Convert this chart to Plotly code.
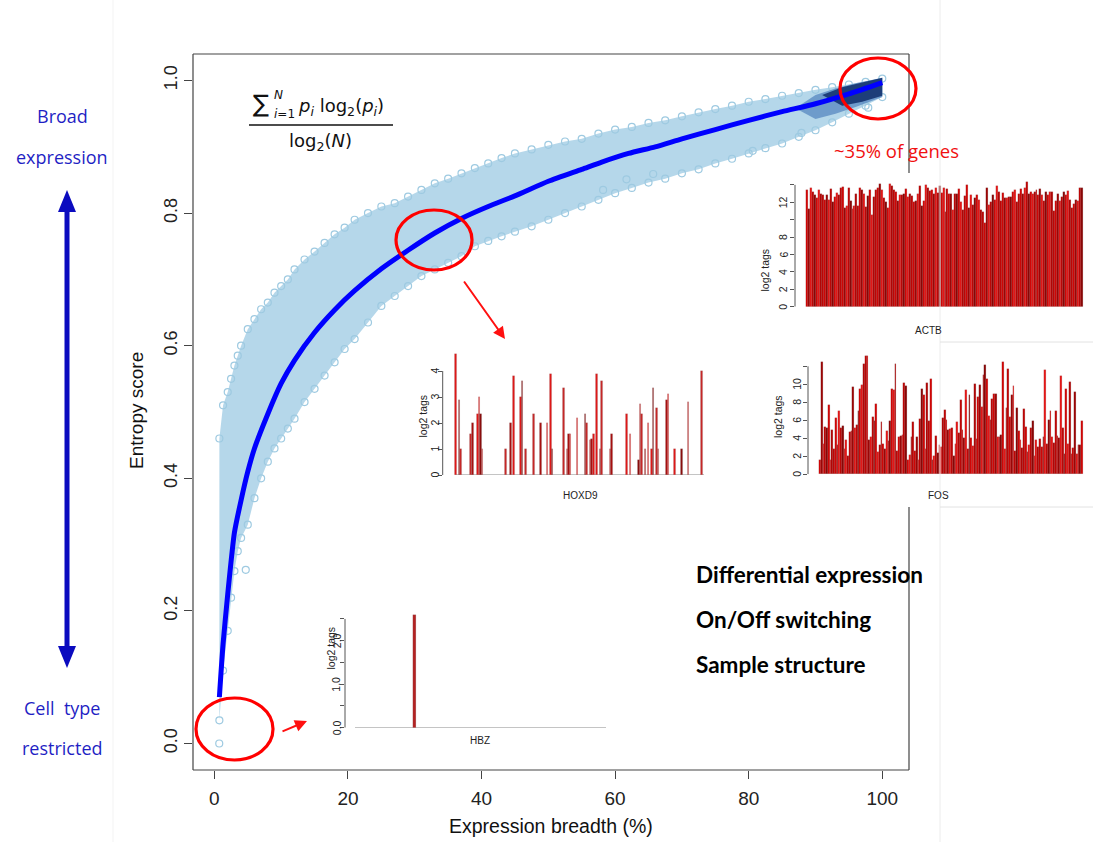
import plotly.graph_objects as go

W, H = 1093, 842

# ---------------- data ----------------
# mean entropy curve (blue line)
line_breadth = [0.75, 1.3, 2, 3, 4, 5, 6, 8, 10, 12, 15, 18, 21, 25, 29, 33, 37, 41, 45,
                50, 55, 58, 62, 66, 70, 75, 80, 85, 90, 95, 100]
entropy_mean = [0.07, 0.15, 0.225, 0.318, 0.367, 0.41, 0.445, 0.497, 0.543, 0.578, 0.62,
                0.654, 0.683, 0.716, 0.744, 0.77, 0.792, 0.81, 0.826, 0.848, 0.866,
                0.877, 0.89, 0.90, 0.912, 0.926, 0.94, 0.953, 0.965, 0.98, 0.997]
# envelope of the gene cloud
cloud_breadth = [0.75, 1.3, 2, 2.5, 3, 3.5, 4, 5, 6, 7, 8, 9, 10, 11, 12, 13.5, 15, 16.5,
                 18, 19.5, 21, 23, 25, 27, 29, 31, 33, 35, 37, 39, 41, 43, 45, 47.5, 50,
                 52.5, 55, 57.5, 60, 62.5, 65, 67.5, 70, 72.5, 75, 77.5, 80, 82.5, 85,
                 87.5, 90, 92.5, 95, 97.5, 100]
cloud_hi = [0.46, 0.51, 0.53, 0.55, 0.57, 0.585, 0.60, 0.625, 0.64, 0.655, 0.665, 0.68,
            0.69, 0.70, 0.715, 0.73, 0.742, 0.755, 0.768, 0.778, 0.79, 0.80, 0.81, 0.815,
            0.825, 0.835, 0.845, 0.852, 0.86, 0.868, 0.875, 0.883, 0.89, 0.896, 0.903,
            0.908, 0.912, 0.92, 0.926, 0.93, 0.936, 0.94, 0.946, 0.952, 0.957, 0.962,
            0.968, 0.972, 0.977, 0.981, 0.986, 0.99, 0.994, 0.998, 1.003]
cloud_lo = [0.035, 0.11, 0.17, 0.22, 0.26, 0.29, 0.31, 0.33, 0.37, 0.40, 0.425, 0.445,
            0.46, 0.475, 0.49, 0.515, 0.535, 0.555, 0.575, 0.595, 0.61, 0.635, 0.66,
            0.675, 0.69, 0.705, 0.715, 0.725, 0.735, 0.75, 0.758, 0.765, 0.772, 0.78,
            0.79, 0.80, 0.81, 0.82, 0.83, 0.838, 0.846, 0.852, 0.86, 0.866, 0.875,
            0.882, 0.89, 0.898, 0.905, 0.915, 0.925, 0.937, 0.95, 0.962, 0.975]
# dense (darker) cluster of broadly expressed genes
dense_breadth = [87, 90, 93, 96, 100]
dense_hi = [0.958, 0.978, 0.988, 0.996, 1.004]
dense_lo = [0.958, 0.942, 0.95, 0.96, 0.975]
navy_breadth = [91, 94, 97, 100]
navy_hi = [0.978, 0.99, 0.997, 1.004]
navy_lo = [0.978, 0.962, 0.968, 0.977]
# isolated genes
outlier_breadth = [0.73, 4.7, 58.2, 61.7, 65.7, 80.6, 87.9, 97.9]
outlier_entropy = [0.0, 0.262, 0.835, 0.851, 0.859, 0.894, 0.921, 0.959]

# example genes: log2 tags per sample
actb = [13.4, 11.2, 13.7, 13.2, 12.8, 12.5, 13.4, 12.9, 12.8, 12.3,
        12.8, 12.3, 13.5, 12.0, 12.6, 13.1, 12.8, 13.6, 13.8, 11.4,
        11.6, 13.7, 12.1, 11.2, 11.6, 12.9, 11.6, 13.7, 13.4, 12.9,
        11.5, 12.7, 13.4, 10.5, 12.6, 13.4, 13.6, 14.1, 13.4, 12.5,
        12.0, 11.3, 14.1, 13.9, 13.4, 13.2, 12.1, 12.8, 12.8, 12.9,
        13.5, 12.6, 13.0, 12.7, 12.0, 12.2, 12.9, 13.9, 11.6, 12.1,
        14.0, 13.6, 13.3, 13.4, 13.0, 13.7, 13.1, 13.9, 13.1, 13.7,
        10.9, 13.5, 13.0, 12.9, 11.1, 13.0, 12.9, 13.5, 12.0, 11.1,
        12.7, 14.0, 11.4, 12.8, 11.7, 12.5, 12.8, 12.3, 11.1, 10.9,
        9.6, 13.7, 11.7, 12.0, 12.8, 12.3, 13.9, 13.2, 12.2, 13.1,
        12.5, 12.5, 12.6, 12.6, 13.2, 13.4, 12.0, 12.9, 13.5, 12.9,
        13.6, 14.3, 13.0, 13.2, 12.9, 13.2, 13.4, 12.8, 13.5, 12.8,
        12.1, 13.2, 12.8, 13.2, 13.2, 11.0, 12.2, 12.9, 12.1, 12.6,
        13.2, 12.8, 13.3, 12.3, 11.3, 11.8, 12.3, 12.2, 13.6, 13.7]
fos = [1.6, 12.5, 3.4, 5.3, 5.2, 7.7, 1.6, 4.9, 2.8, 6.3,
       3.3, 7.0, 5.2, 5.4, 2.8, 3.8, 2.0, 4.7, 4.8, 9.7,
       5.2, 5.5, 7.0, 9.5, 9.9, 12.3, 13.2, 13.1, 3.8, 4.2,
       6.4, 5.9, 7.8, 2.5, 3.3, 5.8, 3.4, 2.8, 4.8, 3.7,
       5.9, 9.5, 9.4, 12.3, 2.6, 4.1, 4.3, 4.4, 10.1, 9.8,
       1.6, 2.1, 4.2, 5.8, 2.6, 4.2, 1.6, 6.2, 9.5, 8.8,
       2.8, 10.1, 5.9, 10.6, 1.6, 2.0, 4.3, 2.4, 3.3, 3.0,
       6.3, 7.1, 6.0, 4.9, 5.0, 5.1, 2.0, 3.4, 5.8, 4.6,
       8.3, 4.9, 4.0, 9.4, 2.8, 8.8, 4.0, 3.2, 10.0, 3.9,
       8.6, 9.9, 7.5, 11.0, 12.1, 10.6, 6.5, 6.0, 8.4, 8.9,
       8.9, 4.2, 4.2, 4.4, 12.5, 2.8, 7.4, 11.7, 6.4, 8.8,
       9.8, 2.6, 7.4, 4.8, 3.8, 2.9, 7.3, 5.3, 2.5, 3.3,
       5.2, 5.9, 2.0, 3.8, 3.0, 3.9, 3.0, 4.1, 11.6, 3.4,
       6.0, 7.0, 4.1, 3.5, 7.0, 4.3, 4.0, 10.9, 5.2, 2.3,
       9.5, 3.4, 10.3, 2.3, 2.9, 9.1, 2.3, 3.3, 3.3, 5.9]
n_samples = 150
hoxd9_samples = [0, 2, 3, 9, 10, 13, 14, 15, 16, 30, 33, 35, 39, 40, 42, 47, 51, 55, 57, 58,
                 65, 67, 68, 69, 73, 78, 79, 81, 82, 83, 85, 87, 88, 93, 94, 103, 105, 110,
                 111, 112, 114, 116, 118, 119, 121, 122, 127, 128, 132, 136, 140, 148]
hoxd9_values = [4.65, 2.9, 1.0, 1.58, 2.0, 2.35, 3.0, 2.35, 1.0, 1.0, 2.0, 3.8, 3.0, 3.6, 1.0,
                2.35, 2.0, 2.0, 3.9, 1.0, 3.33, 1.0, 1.58, 1.58, 2.18, 2.35, 2.0, 1.35, 1.37,
                1.58, 3.87, 1.0, 3.6, 1.0, 1.58, 2.35, 1.58, 0.58, 2.72, 2.35, 1.0, 2.0, 1.0,
                3.33, 2.58, 1.0, 2.9, 3.1, 1.0, 1.0, 2.82, 4.0]
hbz_samples = [35]
hbz_values = [2.58]

x_ticks = [0, 20, 40, 60, 80, 100]
y_ticks = [0.0, 0.2, 0.4, 0.6, 0.8, 1.0]

# ---------------- helpers (layout geometry in pixels) ----------------
def px(x):
    return x / W

def py(y):
    return 1 - y / H

def lin(a, b, p1, v1, p2, v2):
    k = (v2 - v1) / (p2 - p1)
    return [v1 + (a - p1) * k, v1 + (b - p1) * k]

AX = "#444444"
FONT = "Liberation Sans, Arial, sans-serif"

fig = go.Figure()

# ---------------- main scatter ----------------
LB = "#9ecae1"
fig.add_trace(go.Scatter(x=cloud_breadth, y=cloud_lo, mode="lines", line=dict(width=0),
                         hoverinfo="skip", showlegend=False))
fig.add_trace(go.Scatter(x=cloud_breadth, y=cloud_hi, mode="lines", line=dict(width=0),
                         fill="tonexty", fillcolor="rgba(163,205,229,0.80)",
                         hoverinfo="skip", showlegend=False))
fig.add_trace(go.Scatter(x=cloud_breadth + cloud_breadth, y=cloud_lo + cloud_hi,
                         mode="markers",
                         marker=dict(symbol="circle-open", size=7, color=LB,
                                     line=dict(width=1.2, color=LB)),
                         showlegend=False))
fig.add_trace(go.Scatter(x=outlier_breadth, y=outlier_entropy, mode="markers",
                         marker=dict(symbol="circle-open", size=7, color=LB,
                                     line=dict(width=1.2, color=LB)),
                         showlegend=False))
fig.add_trace(go.Scatter(x=dense_breadth, y=dense_lo, mode="lines", line=dict(width=0),
                         hoverinfo="skip", showlegend=False))
fig.add_trace(go.Scatter(x=dense_breadth, y=dense_hi, mode="lines", line=dict(width=0),
                         fill="tonexty", fillcolor="rgba(80,130,190,0.7)",
                         hoverinfo="skip", showlegend=False))
fig.add_trace(go.Scatter(x=navy_breadth, y=navy_lo, mode="lines", line=dict(width=0),
                         hoverinfo="skip", showlegend=False))
fig.add_trace(go.Scatter(x=navy_breadth, y=navy_hi, mode="lines", line=dict(width=0),
                         fill="tonexty", fillcolor="rgba(20,52,112,0.9)",
                         hoverinfo="skip", showlegend=False))
fig.add_trace(go.Scatter(x=line_breadth, y=entropy_mean, mode="lines",
                         line=dict(color="#0000ff", width=5, shape="spline", smoothing=0.6),
                         showlegend=False))

# ---------------- insets ----------------
def bar_colors(n, palette):
    return [palette[(i * 7 + i // 3) % len(palette)] for i in range(n)]

PAL = ["#d40000", "#9c0000", "#e81212", "#b30000", "#c00000", "#8a0000"]

insets = []
n_a = len(actb)
insets.append(dict(k=2, xs=list(range(n_a)), ys=actb, n=n_a,
                   xdom=(795, 1086), bars=(806, 1083), ydom=(180, 306.7),
                   yref=(306.7, 0, 202.3, 12), ticks=[0, 2, 4, 6, 8, 10, 12, 14],
                   labels=["0", "2", "4", "6", "8", "", "12", ""], top=14,
                   name="ACTB", name_xy=(944, 330), lab_xy=(772, 247), base=False,
                   width=1.0, colors=bar_colors(n_a, PAL), tlx=783))
n_f = len(fos)
insets.append(dict(k=3, xs=list(range(n_f)), ys=fos, n=n_f,
                   xdom=(808, 1086), bars=(819, 1083), ydom=(350, 474.3),
                   yref=(474.3, 0, 384.3, 10), ticks=[0, 2, 4, 6, 8, 10, 12],
                   labels=["0", "2", "4", "6", "8", "10", ""], top=12,
                   name="FOS", name_xy=(951, 496), lab_xy=(786, 417), base=False,
                   width=1.0, colors=bar_colors(n_f, PAL), tlx=797.5))
insets.append(dict(k=4, xs=hoxd9_samples, ys=hoxd9_values, n=n_samples,
                   xdom=(442.7, 706), bars=(455, 704), ydom=(348, 475),
                   yref=(475, 0, 371, 4), ticks=[0, 1, 2, 3, 4],
                   labels=["0", "1", "2", "3", "4"], top=4,
                   name="HOXD9", name_xy=(580, 496), lab_xy=(422.5, 416), base=True,
                   width=0.95,
                   colors=bar_colors(len(hoxd9_samples),
                                     ["#e01818", "#a81010", "#c82828", "#8b0d0d"]),
                   tlx=434.5))
insets.append(dict(k=5, xs=hbz_samples, ys=hbz_values, n=n_samples,
                   xdom=(345, 608), bars=(355, 606), ydom=(611, 727.7),
                   yref=(727.7, 0, 640.7, 2), ticks=[0, 0.5, 1, 1.5, 2, 2.5],
                   labels=["0.0", "", "1.0", "", "2.0", ""], top=2.5,
                   name="HBZ", name_xy=(480, 748), lab_xy=(322, 672), base=True,
                   width=1.4, colors=["#b22222"], tlx=336.5))

annotations = []
shapes = []

for ins in insets:
    k = ins["k"]
    n = ins["n"]
    fig.add_trace(go.Bar(x=ins["xs"], y=ins["ys"], width=ins["width"],
                         marker=dict(color=ins["colors"],
                                     line=dict(color="rgba(110,110,110,0.55)", width=0.3)),
                         xaxis=f"x{k}", yaxis=f"y{k}", showlegend=False))
    xr = lin(ins["xdom"][0], ins["xdom"][1], ins["bars"][0], -0.5, ins["bars"][1], n - 0.5)
    p1, v1, p2, v2 = ins["yref"]
    yr = lin(ins["ydom"][1], ins["ydom"][0], p1, v1, p2, v2)
    fig.update_layout(**{
        f"xaxis{k}": dict(domain=[px(ins["xdom"][0]), px(ins["xdom"][1])], range=xr,
                          anchor=f"y{k}", showticklabels=False, ticks="", showline=False,
                          showgrid=False, zeroline=False, fixedrange=True),
        f"yaxis{k}": dict(domain=[py(ins["ydom"][1]), py(ins["ydom"][0])], range=yr,
                          anchor=f"x{k}", tickvals=ins["ticks"], showticklabels=False,
                          ticks="outside", ticklen=4, tickcolor="#555", tickwidth=1,
                          showline=False, showgrid=False, zeroline=False, fixedrange=True),
    })
    # tick labels (R omits those that would overlap)
    for v, lab in zip(ins["ticks"], ins["labels"]):
        if lab:
            annotations.append(dict(text=lab, x=px(ins["tlx"]), xref="paper",
                                    y=v, yref=f"y{k}", showarrow=False, textangle=-90,
                                    xanchor="center", yanchor="middle",
                                    font=dict(size=10.5, family=FONT, color="#222")))
    shapes.append(dict(type="line", xref=f"x{k} domain", yref=f"y{k}", x0=0, x1=0,
                       y0=0, y1=ins["top"], line=dict(color="#555", width=1)))
    if ins["base"]:
        shapes.append(dict(type="line", xref=f"x{k}", yref=f"y{k}", x0=-0.5, x1=n - 0.5,
                           y0=0, y1=0, line=dict(color="#b0b0b0", width=1.5),
                           layer="below"))
    annotations.append(dict(text=ins["name"], x=px(ins["name_xy"][0]), y=py(ins["name_xy"][1]),
                            xref="paper", yref="paper", showarrow=False,
                            font=dict(size=10, family=FONT, color="#222")))
    annotations.append(dict(text="log2 tags", x=px(ins["lab_xy"][0]), y=py(ins["lab_xy"][1]),
                            xref="paper", yref="paper", showarrow=False, textangle=-90,
                            font=dict(size=10.5, family=FONT, color="#222")))

# ---------------- main axes ----------------
fig.update_layout(
    xaxis=dict(domain=[px(193), px(909)], range=[-3.2, 104], tickvals=x_ticks,
               ticks="outside", ticklen=8, tickcolor=AX, tickwidth=1,
               ticklabelstandoff=3,
               tickfont=dict(size=19, family=FONT, color="#222"),
               showline=False, showgrid=False, zeroline=False, anchor="y"),
    yaxis=dict(domain=[py(770), py(54)], range=[-0.04, 1.04], tickvals=y_ticks,
               ticktext=["0.0", "0.2", "0.4", "0.6", "0.8", "1.0"],
               ticks="outside", ticklen=8, tickcolor=AX, tickwidth=1, tickangle=-90,
               tickfont=dict(size=18, family=FONT, color="#222"),
               showline=False, showgrid=False, zeroline=False, anchor="x"),
)

def seg(x0, y0, x1, y1, color=AX, width=1.2):
    return dict(type="line", xref="paper", yref="paper", x0=px(x0), y0=py(y0),
                x1=px(x1), y1=py(y1), line=dict(color=color, width=width))

# frame of main plot (right side interrupted by pasted insets)
shapes += [seg(193, 54, 909, 54), seg(193, 770, 909, 770), seg(193, 54, 193, 770),
           seg(909, 54, 909, 173), seg(909, 507, 909, 770)]
# faint slide edges
shapes += [seg(940, 0, 940, 842, "#ececec", 1), seg(113, 0, 113, 842, "#f3f3f3", 1),
           seg(940, 342, 1093, 342, "#e2e2e2", 1), seg(940, 507, 1093, 507, "#e2e2e2", 1)]

# red highlight ellipses
for cx, cy, rx, ry in [(234.5, 729, 38.5, 31), (434, 240, 38, 30), (878, 88.5, 38, 30.5)]:
    shapes.append(dict(type="circle", xref="paper", yref="paper", x0=px(cx - rx),
                       x1=px(cx + rx), y0=py(cy + ry), y1=py(cy - ry),
                       line=dict(color="#ff0000", width=3.2)))

# blue double arrow
BLUE = "#0b0bbf"
ax_x = 67
shapes.append(dict(type="rect", xref="paper", yref="paper", x0=px(ax_x - 2.5),
                   x1=px(ax_x + 2.5), y0=py(650), y1=py(208), fillcolor=BLUE,
                   line=dict(width=0)))

def tri(p):
    return "M " + " L ".join(f"{px(a)},{py(b)}" for a, b in p) + " Z"

shapes.append(dict(type="path", xref="paper", yref="paper",
                   path=tri([(ax_x, 190), (ax_x - 9, 212), (ax_x + 9, 212)]),
                   fillcolor=BLUE, line=dict(width=0)))
shapes.append(dict(type="path", xref="paper", yref="paper",
                   path=tri([(ax_x, 668), (ax_x - 9, 646), (ax_x + 9, 646)]),
                   fillcolor=BLUE, line=dict(width=0)))

# formula fraction bar
shapes.append(seg(249, 125, 393, 125, "#111", 1.6))

# red arrows
for (tx, ty), (hx, hy) in [((463, 280), (505, 339)), ((281, 732), (307, 721))]:
    annotations.append(dict(text="", x=px(hx), y=py(hy), xref="paper", yref="paper",
                            ax=tx - hx, ay=ty - hy, showarrow=True, arrowhead=2,
                            arrowsize=1.2, arrowwidth=2, arrowcolor="#ff1010"))

def txt(s, x, y, size, color="#111", family=FONT, xanchor="center", angle=0, bold=False):
    if bold:
        s = f"<b>{s}</b>"
    return dict(text=s, x=px(x), y=py(y), xref="paper", yref="paper", showarrow=False,
                xanchor=xanchor, yanchor="middle", textangle=angle,
                font=dict(size=size, family=family, color=color))

SANS = "Open Sans, Noto Sans, sans-serif"
LATO = "Lato, sans-serif"
annotations += [
    txt("Entropy score", 137, 411, 19, angle=-90),
    txt("Expression breadth (%)", 551, 826, 19.5),
    txt("Broad", 62, 116, 18, "#1f1fc4", SANS),
    txt("expression", 62, 157, 18, "#1f1fc4", SANS),
    txt("Cell  type", 62, 708, 18, "#1f1fc4", SANS),
    txt("restricted", 62, 748, 18, "#1f1fc4", SANS),
    txt("~35% of genes", 832, 150, 18.5, "#f01010", SANS, xanchor="left"),
    txt("Differential expression", 694, 574, 22.5, "#000", LATO, "left", bold=True),
    txt("On/Off switching", 694, 619, 22.5, "#000", LATO, "left", bold=True),
    txt("Sample structure", 694, 664, 22.5, "#000", LATO, "left", bold=True),
    # formula
    txt("∑", 251, 104, 24, "#111", "DejaVu Sans", "left"),
    txt("<i>N</i>", 272, 95, 12, "#111", "DejaVu Sans", "left"),
    txt("<i>i</i>=1", 272, 114, 12, "#111", "DejaVu Sans", "left"),
    txt("<i>p<sub>i</sub></i> log<sub>2</sub>(<i>p<sub>i</sub></i>)", 296, 107, 18,
        "#111", "DejaVu Sans", "left"),
    txt("log<sub>2</sub>(<i>N</i>)", 320, 142, 18, "#111", "DejaVu Sans"),
]

fig.update_layout(
    width=W, height=H, margin=dict(l=0, r=0, t=0, b=0),
    paper_bgcolor="white", plot_bgcolor="white",
    bargap=0, showlegend=False,
    shapes=shapes, annotations=annotations,
)

fig.write_html("out.html")
